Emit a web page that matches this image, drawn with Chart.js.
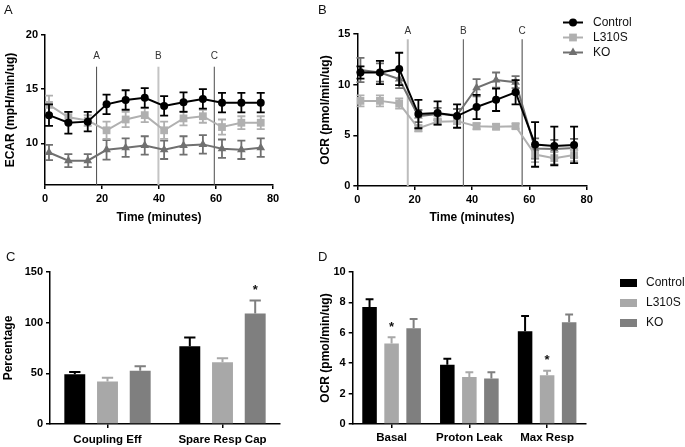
<!DOCTYPE html>
<html><head><meta charset="utf-8">
<script src="https://cdn.jsdelivr.net/npm/chart.js@4.4.1/dist/chart.umd.min.js"></script>
<style>
html,body{margin:0;padding:0;background:#fff;}
#wrap{position:relative;width:685px;height:447px;overflow:hidden;background:#fff;font-family:"Liberation Sans",Arial,sans-serif;}
canvas{position:absolute;left:0;top:0;}
.pl{position:absolute;font-size:13px;line-height:13px;color:#111;}
</style></head><body>
<div id="wrap">
<canvas id="cA" width="685" height="447"></canvas>
<canvas id="cB" width="685" height="447"></canvas>
<canvas id="cC" width="685" height="447"></canvas>
<canvas id="cD" width="685" height="447"></canvas>
<div class="pl" style="left:4px;top:3px">A</div>
<div class="pl" style="left:318px;top:3px">B</div>
<div class="pl" style="left:6px;top:250px">C</div>
<div class="pl" style="left:318px;top:250px">D</div>
</div>
<script>
// ---------- DATA ----------
const seriesNames = ['Control', 'L310S', 'KO'];

// Panel A: ECAR time course
const timeA = [1.4, 8.2, 15.0, 21.6, 28.3, 35.0, 41.8, 48.6, 55.4, 62.1, 68.9, 75.7];
const ecarControl = [12.6, 11.9, 12.0, 13.6, 14.0, 14.2, 13.45, 13.8, 14.1, 13.75, 13.75, 13.75];
const ecarControlErr = [1.0, 1.0, 0.9, 0.9, 0.9, 0.9, 0.9, 0.9, 0.9, 0.9, 0.9, 0.9];
const ecarL310S = [13.55, 12.4, 12.1, 11.2, 12.2, 12.6, 11.2, 12.3, 12.5, 11.5, 11.9, 11.9];
const ecarL310SErr = [0.85, 0.5, 0.5, 0.8, 0.7, 0.65, 0.8, 0.65, 0.6, 0.7, 0.6, 0.6];
const ecarKO = [9.15, 8.4, 8.4, 9.4, 9.6, 9.8, 9.4, 9.8, 9.9, 9.5, 9.4, 9.6];
const ecarKOErr = [0.7, 0.6, 0.6, 0.9, 0.85, 0.85, 0.85, 0.85, 0.85, 0.85, 0.85, 0.85];

// Panel B: OCR time course
const timeB = [1.1, 7.9, 14.6, 21.3, 28.0, 34.8, 41.6, 48.4, 55.2, 62.0, 68.7, 75.6];
const ocrControl = [11.2, 11.2, 11.55, 7.1, 7.2, 6.9, 7.8, 8.5, 9.25, 4.1, 3.95, 4.05];
const ocrControlErr = [0.6, 1.15, 1.6, 1.4, 1.15, 1.15, 1.2, 1.1, 1.2, 2.2, 1.9, 1.8];
const ocrL310S = [8.4, 8.4, 8.15, 5.7, 6.35, 6.4, 5.9, 5.85, 5.9, 3.1, 2.75, 3.05];
const ocrL310SErr = [0.55, 0.55, 0.5, 0.3, 0.3, 0.3, 0.3, 0.25, 0.25, 0.75, 0.6, 0.6];
const ocrKO = [11.45, 11.2, 10.55, 6.9, 7.1, 7.0, 9.7, 10.45, 10.25, 3.7, 3.65, 3.75];
const ocrKOErr = [1.2, 0.9, 0.9, 0.6, 0.6, 0.6, 0.85, 0.75, 0.6, 1.0, 0.9, 0.9];

// injection markers
const injLabels = ['A', 'B', 'C'];
const injTimesA = [18.1, 39.8, 59.4];
const injTimesB = [17.6, 37.0, 57.5];

// tick labels
const ticksTime = [0, 20, 40, 60, 80];
const ticksEcar = [10, 15, 20];
const ticksOcr = [0, 5, 10, 15];
const ticksPct = [0, 50, 100, 150];
const ticksOcrBar = [0, 2, 4, 6, 8, 10];

// Panel C: percentages
const pctCats = ['Coupling Eff', 'Spare Resp Cap'];
const pctControl = [49.2, 76.8];
const pctControlErr = [2.0, 8.5];
const pctL310S = [42.0, 61.0];
const pctL310SErr = [3.6, 4.0];
const pctKO = [52.5, 109.0];
const pctKOErr = [4.6, 12.8];
const pctKOSig = [false, true];

// Panel D: OCR parameters
const ocrCats = ['Basal', 'Proton Leak', 'Max Resp'];
const barControl = [7.7, 3.9, 6.1];
const barControlErr = [0.5, 0.4, 1.0];
const barL310S = [5.3, 3.1, 3.2];
const barL310SErr = [0.4, 0.3, 0.3];
const barKO = [6.3, 3.0, 6.7];
const barKOErr = [0.6, 0.4, 0.5];
const barL310SSig = [true, false, true];

// ---------- STYLE ----------
const FONT = '"Liberation Sans", Arial, sans-serif';
Chart.defaults.font.family = FONT;
Chart.defaults.color = '#000';
const lineColors = ['#000000', '#b0b0b0', '#707070'];
const barColors = ['#000000', '#a8a8a8', '#7f7f7f'];
const pointStyles = ['circle', 'rect', 'triangle'];
const pointRadii = [4, 5.5, 5];

function markerPath(ctx, style, x, y, r) {
  ctx.beginPath();
  if (style === 'circle') ctx.arc(x, y, r, 0, Math.PI * 2);
  else if (style === 'rect') { const s = r * Math.SQRT1_2; ctx.rect(x - s, y - s, 2 * s, 2 * s); }
  else { ctx.moveTo(x, y - r); ctx.lineTo(x + r * 0.866, y + r * 0.5); ctx.lineTo(x - r * 0.866, y + r * 0.5); ctx.closePath(); }
}

function drawErr(chart, i, opts) {
  const ds = chart.data.datasets[i];
  if (!ds.errors) return;
  const meta = chart.getDatasetMeta(i);
  if (meta.hidden) return;
  const ys = chart.scales.y, ctx = chart.ctx;
  ctx.save();
  ctx.strokeStyle = ds.errColor || ds.borderColor;
  ctx.lineWidth = opts.lineWidth || 1.8;
  meta.data.forEach((el, j) => {
    const raw = ds.data[j];
    const v = (typeof raw === 'object') ? raw.y : raw;
    const e = ds.errors[j];
    const x = el.x;
    const yTop = ys.getPixelForValue(v + e);
    const both = opts.mode === 'both';
    const yBot = both ? ys.getPixelForValue(v - e) : el.y;
    const cw = opts.capHalf != null ? opts.capHalf : el.width * 0.27;
    ctx.beginPath();
    ctx.moveTo(x, yTop); ctx.lineTo(x, yBot);
    ctx.moveTo(x - cw, yTop); ctx.lineTo(x + cw, yTop);
    if (both) { ctx.moveTo(x - cw, yBot); ctx.lineTo(x + cw, yBot); }
    ctx.stroke();
    if (ds.sig && ds.sig[j]) {
      ctx.fillStyle = '#111';
      ctx.font = 'bold 13px ' + FONT;
      ctx.textAlign = 'center';
      ctx.textBaseline = 'middle';
      ctx.fillText('*', x, yTop - 10);
    }
  });
  ctx.restore();
}

const errPlugin = {
  id: 'errbars',
  beforeDatasetDraw(chart, args, opts) { if (opts.mode === 'both') drawErr(chart, args.index, opts); },
  afterDatasetDraw(chart, args, opts) { if (opts.mode === 'up') drawErr(chart, args.index, opts); }
};

const injPlugin = {
  id: 'inject',
  beforeDatasetsDraw(chart, args, opts) {
    if (!opts.times) return;
    const ctx = chart.ctx, xs = chart.scales.x, ys = chart.scales.y;
    ctx.save();
    opts.times.forEach((t, i) => {
      const x = xs.getPixelForValue(t);
      ctx.strokeStyle = opts.colors[i];
      ctx.lineWidth = opts.widths[i];
      ctx.beginPath();
      ctx.moveTo(x, chart.chartArea.bottom);
      ctx.lineTo(x, ys.getPixelForValue(opts.lineTop));
      ctx.stroke();
      ctx.fillStyle = '#333';
      ctx.font = '10px ' + FONT;
      ctx.textAlign = 'center';
      ctx.textBaseline = 'middle';
      ctx.fillText(opts.labels[i], x, ys.getPixelForValue(opts.labelAt));
    });
    ctx.restore();
  }
};

const legendPlugin = {
  id: 'customLegend',
  afterDraw(chart, args, opts) {
    if (!opts.x) return;
    const ctx = chart.ctx;
    ctx.save();
    chart.data.datasets.forEach((ds, i) => {
      const y = opts.y + i * opts.step;
      if (opts.kind === 'line') {
        ctx.strokeStyle = ds.borderColor; ctx.lineWidth = 2;
        ctx.beginPath(); ctx.moveTo(opts.x, y); ctx.lineTo(opts.x + 20, y); ctx.stroke();
        ctx.fillStyle = ds.borderColor;
        markerPath(ctx, ds.pointStyle, opts.x + 10, y, ds.pointRadius);
        ctx.fill();
      } else {
        ctx.fillStyle = ds.backgroundColor;
        ctx.fillRect(opts.x, y - 4, 17, 8);
      }
      ctx.fillStyle = '#111';
      ctx.font = '12px ' + FONT;
      ctx.textAlign = 'left';
      ctx.textBaseline = 'middle';
      ctx.fillText(ds.label, opts.textX, y);
    });
    ctx.restore();
  }
};

function axisCommon(extra) {
  return Object.assign({
    border: { display: true, color: '#000', width: 1.5 },
    grid: { drawOnChartArea: false, drawTicks: true, tickLength: 4, color: '#000', lineWidth: 1.5 },
  }, extra);
}
const tickFont = { family: FONT, size: 11, weight: 'bold' };
const titleFont = { family: FONT, size: 12, weight: 'bold' };

function lineDatasets(times, vals, errs) {
  return seriesNames.map((n, i) => ({
    label: n,
    data: times.map((t, k) => ({ x: t, y: vals[i][k] })),
    errors: errs[i],
    borderColor: lineColors[i],
    backgroundColor: lineColors[i],
    pointBackgroundColor: lineColors[i],
    pointBorderColor: lineColors[i],
    pointStyle: pointStyles[i],
    pointRadius: pointRadii[i],
    pointBorderWidth: 0,
    borderWidth: 2,
    tension: 0,
    clip: false
  }));
}

function lineChart(id, pad, yW, xH, times, vals, errs, yMin, yMax, yTicks, yTitle, inj, legend) {
  return new Chart(document.getElementById(id), {
    type: 'line',
    data: { datasets: lineDatasets(times, vals, errs) },
    options: {
      responsive: false, animation: false, events: [],
      layout: { padding: pad },
      plugins: {
        legend: { display: false }, tooltip: { enabled: false },
        errbars: { mode: 'both', capHalf: 4, lineWidth: 1.8 },
        inject: inj,
        customLegend: legend || {}
      },
      scales: {
        x: axisCommon({
          type: 'linear', min: 0, max: 80,
          afterBuildTicks: s => { s.ticks = ticksTime.map(v => ({ value: v })); },
          afterFit: s => { s.height = xH; },
          ticks: { font: tickFont, padding: 3, color: '#000', maxRotation: 0 },
          title: { display: true, text: 'Time (minutes)', font: titleFont, padding: 0, color: '#000' }
        }),
        y: axisCommon({
          type: 'linear', min: yMin, max: yMax,
          afterBuildTicks: s => { s.ticks = yTicks.map(v => ({ value: v })); },
          afterFit: s => { s.width = yW; },
          ticks: { font: tickFont, padding: 3, color: '#000' },
          title: { display: true, text: yTitle, font: titleFont, padding: 0, color: '#000' }
        })
      }
    },
    plugins: [errPlugin, injPlugin, legendPlugin]
  });
}

function barChart(id, pad, yW, xH, cats, vals, errs, sigs, yMax, yTicks, yTitle, catPct, barPct, xPad, legend) {
  return new Chart(document.getElementById(id), {
    type: 'bar',
    data: {
      labels: cats,
      datasets: seriesNames.map((n, i) => ({
        label: n, data: vals[i], errors: errs[i], sig: sigs[i],
        backgroundColor: barColors[i], borderColor: barColors[i], borderWidth: 0,
        categoryPercentage: catPct, barPercentage: barPct
      }))
    },
    options: {
      responsive: false, animation: false, events: [],
      layout: { padding: pad },
      plugins: {
        legend: { display: false }, tooltip: { enabled: false },
        errbars: { mode: 'up', lineWidth: 2 },
        customLegend: legend || {}
      },
      scales: {
        x: axisCommon({
          type: 'category',
          grid: { drawOnChartArea: false, drawTicks: true, tickLength: 4, color: '#000', lineWidth: 1.5, offset: false },
          afterFit: s => { s.height = xH; },
          ticks: { font: { family: FONT, size: 11.5, weight: 'bold' }, padding: xPad, color: '#000', maxRotation: 0, autoSkip: false }
        }),
        y: axisCommon({
          type: 'linear', min: 0, max: yMax,
          afterBuildTicks: s => { s.ticks = yTicks.map(v => ({ value: v })); },
          afterFit: s => { s.width = yW; },
          ticks: { font: tickFont, padding: 3, color: '#000' },
          title: { display: true, text: yTitle, font: titleFont, padding: 0, color: '#000' }
        })
      }
    },
    plugins: [errPlugin, legendPlugin]
  });
}

lineChart('cA', { left: 3, top: 35, right: 412, bottom: 222 }, 42, 40, timeA,
  [ecarControl, ecarL310S, ecarKO], [ecarControlErr, ecarL310SErr, ecarKOErr],
  6.15, 20, ticksEcar, 'ECAR (mpH/min/ug)',
  { times: injTimesA, labels: injLabels, colors: ['#4a4a4a', '#c4c4c4', '#4a4a4a'], widths: [1, 2, 1], lineTop: 17.07, labelAt: 18.0 });

lineChart('cB', { left: 318, top: 34, right: 98.3, bottom: 222 }, 39.3, 39, timeB,
  [ocrControl, ocrL310S, ocrKO], [ocrControlErr, ocrL310SErr, ocrKOErr],
  0, 15, ticksOcr, 'OCR (pmol/min/ug)',
  { times: injTimesB, labels: injLabels, colors: ['#bdbdbd', '#6e6e6e', '#808080'], widths: [2, 1.2, 1.5], lineTop: 14.48, labelAt: 15.23 },
  { kind: 'line', x: 563, textX: 593, y: 22.5, step: 15 });

barChart('cC', { left: 1, top: 272, right: 405, bottom: 0 }, 49, 23, pctCats,
  [pctControl, pctL310S, pctKO], [pctControlErr, pctL310SErr, pctKOErr],
  [null, null, pctKOSig], 150, ticksPct, 'Percentage', 0.853, 0.64, 5);

barChart('cD', { left: 318, top: 272, right: 99, bottom: 0 }, 34.7, 23, ocrCats,
  [barControl, barL310S, barKO], [barControlErr, barL310SErr, barKOErr],
  [null, barL310SSig, null], 10, ticksOcrBar, 'OCR (pmol/min/ug)', 0.85, 0.66, 3,
  { kind: 'box', x: 620, textX: 646, y: 283, step: 20 });
</script>
</body></html>
